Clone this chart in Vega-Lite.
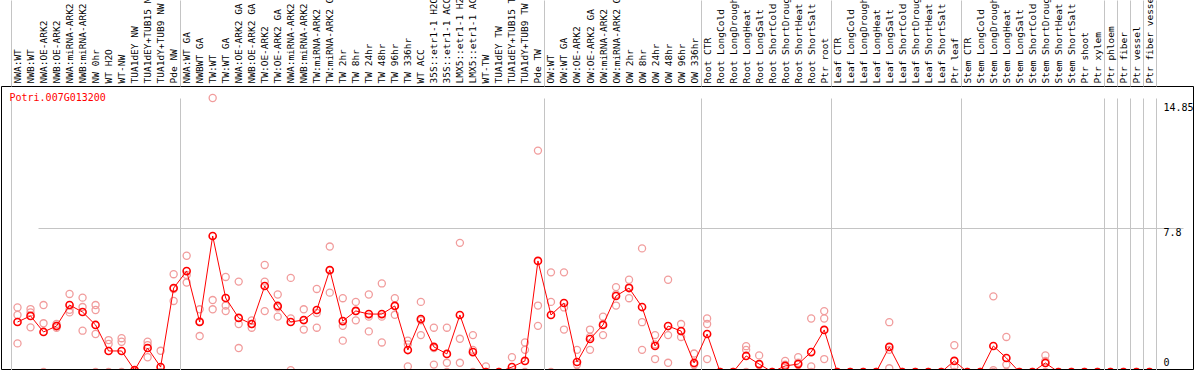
{
  "$schema": "https://vega.github.io/schema/vega-lite/v6.json",
  "width": 1192,
  "height": 283,
  "autosize": "none",
  "padding": {"left": 1, "top": 86, "right": 1, "bottom": 1},
  "background": "white",
  "config": {"view": {"stroke": "black", "strokeWidth": 1, "fill": "white"}, "font": "DejaVu Sans Mono"},
  "datasets": {
    "means": [
      {"c": "NWA:WT", "i": 0, "v": 2.71}, {"c": "NWB:WT", "i": 1, "v": 3.04}, {"c": "NWA:OE-ARK2", "i": 2, "v": 2.17}, {"c": "NWB:OE-ARK2", "i": 3, "v": 2.49},
      {"c": "NWA:miRNA-ARK2", "i": 4, "v": 3.63}, {"c": "NWB:miRNA-ARK2", "i": 5, "v": 3.25}, {"c": "NW 0hr", "i": 6, "v": 2.55}, {"c": "WT H2O", "i": 7, "v": 1.14},
      {"c": "WT-NW", "i": 8, "v": 1.14}, {"c": "TUA1dEY NW", "i": 9, "v": 0.1}, {"c": "TUA1dEY+TUB15 NW", "i": 10, "v": 1.3}, {"c": "TUA1dY+TUB9 NW", "i": 11, "v": 0.27},
      {"c": "Pde NW", "i": 12, "v": 4.55}, {"c": "NWA:WT GA", "i": 13, "v": 5.47}, {"c": "NWBWT GA", "i": 14, "v": 2.71}, {"c": "TW:WT", "i": 15, "v": 7.37},
      {"c": "TW:WT GA", "i": 16, "v": 4.01}, {"c": "NWA:OE-ARK2 GA", "i": 17, "v": 2.93}, {"c": "NWB:OE-ARK2 GA", "i": 18, "v": 2.6}, {"c": "TW:OE-ARK2", "i": 19, "v": 4.66},
      {"c": "TW:OE-ARK2 GA", "i": 20, "v": 3.58}, {"c": "NWA:miRNA-ARK2 GA", "i": 21, "v": 2.71}, {"c": "NWB:miRNA-ARK2 GA", "i": 22, "v": 2.82}, {"c": "TW:miRNA-ARK2", "i": 23, "v": 3.36},
      {"c": "TW:miRNA-ARK2 GA", "i": 24, "v": 5.53}, {"c": "TW 2hr", "i": 25, "v": 2.76}, {"c": "TW 8hr", "i": 26, "v": 3.31}, {"c": "TW 24hr", "i": 27, "v": 3.14},
      {"c": "TW 48hr", "i": 28, "v": 3.14}, {"c": "TW 96hr", "i": 29, "v": 3.58}, {"c": "TW 336hr", "i": 30, "v": 1.19}, {"c": "WT ACC", "i": 31, "v": 2.87},
      {"c": "35S::etr1-1 H2O", "i": 32, "v": 1.36}, {"c": "35S::etr1-1 ACC", "i": 33, "v": 0.98}, {"c": "LMX5::etr1-1 H2O", "i": 34, "v": 3.09}, {"c": "LMX5::etr1-1 ACC", "i": 35, "v": 1.08},
      {"c": "WT-TW", "i": 36, "v": 0}, {"c": "TUA1dEY TW", "i": 37, "v": 0}, {"c": "TUA1dEY+TUB15 TW", "i": 38, "v": 0.27}, {"c": "TUA1dY+TUB9 TW", "i": 39, "v": 0.6},
      {"c": "Pde TW", "i": 40, "v": 6.02}, {"c": "OW:WT", "i": 41, "v": 3.09}, {"c": "OW:WT GA", "i": 42, "v": 3.74}, {"c": "OW:OE-ARK2", "i": 43, "v": 0.54},
      {"c": "OW:OE-ARK2 GA", "i": 44, "v": 1.79}, {"c": "OW:miRNA-ARK2", "i": 45, "v": 2.55}, {"c": "OW:miRNA-ARK2 GA", "i": 46, "v": 4.12}, {"c": "OW 2hr", "i": 47, "v": 4.55},
      {"c": "OW 8hr", "i": 48, "v": 3.52}, {"c": "OW 24hr", "i": 49, "v": 1.41}, {"c": "OW 48hr", "i": 50, "v": 2.49}, {"c": "OW 96hr", "i": 51, "v": 2.22},
      {"c": "OW 336hr", "i": 52, "v": 0.49}, {"c": "Root CTR", "i": 53, "v": 2.06}, {"c": "Root LongCold", "i": 54, "v": 0}, {"c": "Root LongDrought", "i": 55, "v": 0},
      {"c": "Root LongHeat", "i": 56, "v": 0.87}, {"c": "Root LongSalt", "i": 57, "v": 0.43}, {"c": "Root ShortCold", "i": 58, "v": 0}, {"c": "Root ShortDrought", "i": 59, "v": 0.33},
      {"c": "Root ShortHeat", "i": 60, "v": 0.43}, {"c": "Root ShortSalt", "i": 61, "v": 1.08}, {"c": "Ptr root", "i": 62, "v": 2.28}, {"c": "Leaf CTR", "i": 63, "v": 0},
      {"c": "Leaf LongCold", "i": 64, "v": 0}, {"c": "Leaf LongDrought", "i": 65, "v": 0}, {"c": "Leaf LongHeat", "i": 66, "v": 0}, {"c": "Leaf LongSalt", "i": 67, "v": 1.36},
      {"c": "Leaf ShortCold", "i": 68, "v": 0}, {"c": "Leaf ShortDrought", "i": 69, "v": 0}, {"c": "Leaf ShortHeat", "i": 70, "v": 0}, {"c": "Leaf ShortSalt", "i": 71, "v": 0},
      {"c": "Ptr leaf", "i": 72, "v": 0.6}, {"c": "Stem CTR", "i": 73, "v": 0}, {"c": "Stem LongCold", "i": 74, "v": 0}, {"c": "Stem LongDrought", "i": 75, "v": 1.41},
      {"c": "Stem LongHeat", "i": 76, "v": 0.76}, {"c": "Stem LongSalt", "i": 77, "v": 0}, {"c": "Stem ShortCold", "i": 78, "v": 0}, {"c": "Stem ShortDrought", "i": 79, "v": 0.49},
      {"c": "Stem ShortHeat", "i": 80, "v": 0}, {"c": "Stem ShortSalt", "i": 81, "v": 0}, {"c": "Ptr shoot", "i": 82, "v": 0}, {"c": "Ptr xylem", "i": 83, "v": 0},
      {"c": "Ptr phloem", "i": 84, "v": 0}, {"c": "Ptr fiber", "i": 85, "v": 0}, {"c": "Ptr vessel", "i": 86, "v": 0}, {"c": "Ptr fiber vessel", "i": 87, "v": 0}
    ],
    "reps": [
      {"c": "NWA:WT", "v": 3.5}, {"c": "NWA:WT", "v": 3.09}, {"c": "NWA:WT", "v": 1.55},
      {"c": "NWB:WT", "v": 3.41}, {"c": "NWB:WT", "v": 3.23}, {"c": "NWB:WT", "v": 2.42},
      {"c": "NWA:OE-ARK2", "v": 3.63}, {"c": "NWA:OE-ARK2", "v": 2.64}, {"c": "NWA:OE-ARK2", "v": 0},
      {"c": "NWB:OE-ARK2", "v": 2.6}, {"c": "NWB:OE-ARK2", "v": 2.5}, {"c": "NWB:OE-ARK2", "v": 2.4},
      {"c": "NWA:miRNA-ARK2", "v": 4.23}, {"c": "NWA:miRNA-ARK2", "v": 3.37}, {"c": "NWA:miRNA-ARK2", "v": 3.23},
      {"c": "NWB:miRNA-ARK2", "v": 4.03}, {"c": "NWB:miRNA-ARK2", "v": 3.52}, {"c": "NWB:miRNA-ARK2", "v": 2.24},
      {"c": "NW 0hr", "v": 3.63}, {"c": "NW 0hr", "v": 3.36}, {"c": "NW 0hr", "v": 2.06}, {"c": "NW 0hr", "v": 0},
      {"c": "WT H2O", "v": 1.73}, {"c": "WT H2O", "v": 1.52}, {"c": "WT H2O", "v": 0},
      {"c": "WT-NW", "v": 1.83}, {"c": "WT-NW", "v": 1.64}, {"c": "WT-NW", "v": 0},
      {"c": "TUA1dEY NW", "v": 0},
      {"c": "TUA1dEY+TUB15 NW", "v": 1.64}, {"c": "TUA1dEY+TUB15 NW", "v": 1.46}, {"c": "TUA1dEY+TUB15 NW", "v": 0.8},
      {"c": "TUA1dY+TUB9 NW", "v": 1.15}, {"c": "TUA1dY+TUB9 NW", "v": 0},
      {"c": "Pde NW", "v": 5.3}, {"c": "Pde NW", "v": 4.5}, {"c": "Pde NW", "v": 3.85},
      {"c": "NWA:WT GA", "v": 6.3}, {"c": "NWA:WT GA", "v": 5.26}, {"c": "NWA:WT GA", "v": 4.85},
      {"c": "NWBWT GA", "v": 3.4}, {"c": "NWBWT GA", "v": 2.75}, {"c": "NWBWT GA", "v": 1.95},
      {"c": "TW:WT", "v": 14.85}, {"c": "TW:WT", "v": 3.9}, {"c": "TW:WT", "v": 3.4},
      {"c": "TW:WT GA", "v": 5.15}, {"c": "TW:WT GA", "v": 3.6}, {"c": "TW:WT GA", "v": 3.3},
      {"c": "NWA:OE-ARK2 GA", "v": 4.9}, {"c": "NWA:OE-ARK2 GA", "v": 2.6}, {"c": "NWA:OE-ARK2 GA", "v": 1.3},
      {"c": "NWB:OE-ARK2 GA", "v": 2.8}, {"c": "NWB:OE-ARK2 GA", "v": 2.6}, {"c": "NWB:OE-ARK2 GA", "v": 2.4},
      {"c": "TW:OE-ARK2", "v": 5.8}, {"c": "TW:OE-ARK2", "v": 4.9}, {"c": "TW:OE-ARK2", "v": 3.3},
      {"c": "TW:OE-ARK2 GA", "v": 4.2}, {"c": "TW:OE-ARK2 GA", "v": 3.5}, {"c": "TW:OE-ARK2 GA", "v": 3.0},
      {"c": "NWA:miRNA-ARK2 GA", "v": 5.1}, {"c": "NWA:miRNA-ARK2 GA", "v": 2.9}, {"c": "NWA:miRNA-ARK2 GA", "v": 0.1},
      {"c": "NWB:miRNA-ARK2 GA", "v": 3.4}, {"c": "NWB:miRNA-ARK2 GA", "v": 2.8}, {"c": "NWB:miRNA-ARK2 GA", "v": 2.3},
      {"c": "TW:miRNA-ARK2", "v": 4.5}, {"c": "TW:miRNA-ARK2", "v": 3.2}, {"c": "TW:miRNA-ARK2", "v": 2.4},
      {"c": "TW:miRNA-ARK2 GA", "v": 6.8}, {"c": "TW:miRNA-ARK2 GA", "v": 5.5}, {"c": "TW:miRNA-ARK2 GA", "v": 4.3},
      {"c": "TW 2hr", "v": 4.0}, {"c": "TW 2hr", "v": 2.5}, {"c": "TW 2hr", "v": 1.7},
      {"c": "TW 8hr", "v": 3.8}, {"c": "TW 8hr", "v": 3.3}, {"c": "TW 8hr", "v": 2.8},
      {"c": "TW 24hr", "v": 4.2}, {"c": "TW 24hr", "v": 3.0}, {"c": "TW 24hr", "v": 2.2},
      {"c": "TW 48hr", "v": 4.8}, {"c": "TW 48hr", "v": 3.0}, {"c": "TW 48hr", "v": 1.6},
      {"c": "TW 96hr", "v": 4.0}, {"c": "TW 96hr", "v": 3.6}, {"c": "TW 96hr", "v": 3.1},
      {"c": "TW 336hr", "v": 1.7}, {"c": "TW 336hr", "v": 1.5}, {"c": "TW 336hr", "v": 0.3},
      {"c": "WT ACC", "v": 3.8}, {"c": "WT ACC", "v": 2.8}, {"c": "WT ACC", "v": 2.0},
      {"c": "35S::etr1-1 H2O", "v": 2.4}, {"c": "35S::etr1-1 H2O", "v": 1.3}, {"c": "35S::etr1-1 H2O", "v": 0.4},
      {"c": "35S::etr1-1 ACC", "v": 2.4}, {"c": "35S::etr1-1 ACC", "v": 0.5}, {"c": "35S::etr1-1 ACC", "v": 0},
      {"c": "LMX5::etr1-1 H2O", "v": 7.0}, {"c": "LMX5::etr1-1 H2O", "v": 1.8}, {"c": "LMX5::etr1-1 H2O", "v": 0.5},
      {"c": "LMX5::etr1-1 ACC", "v": 2.0}, {"c": "LMX5::etr1-1 ACC", "v": 1.2}, {"c": "LMX5::etr1-1 ACC", "v": 0},
      {"c": "WT-TW", "v": 0.3}, {"c": "WT-TW", "v": 0},
      {"c": "TUA1dEY TW", "v": 0},
      {"c": "TUA1dEY+TUB15 TW", "v": 0.8}, {"c": "TUA1dEY+TUB15 TW", "v": 0},
      {"c": "TUA1dY+TUB9 TW", "v": 1.6}, {"c": "TUA1dY+TUB9 TW", "v": 1.2}, {"c": "TUA1dY+TUB9 TW", "v": 0},
      {"c": "Pde TW", "v": 12.0}, {"c": "Pde TW", "v": 3.6}, {"c": "Pde TW", "v": 2.5},
      {"c": "OW:WT", "v": 5.4}, {"c": "OW:WT", "v": 3.8}, {"c": "OW:WT", "v": 0},
      {"c": "OW:WT GA", "v": 5.4}, {"c": "OW:WT GA", "v": 3.5}, {"c": "OW:WT GA", "v": 2.3},
      {"c": "OW:OE-ARK2", "v": 1.2}, {"c": "OW:OE-ARK2", "v": 0.4}, {"c": "OW:OE-ARK2", "v": 0},
      {"c": "OW:OE-ARK2 GA", "v": 2.3}, {"c": "OW:OE-ARK2 GA", "v": 1.9}, {"c": "OW:OE-ARK2 GA", "v": 1.2},
      {"c": "OW:miRNA-ARK2", "v": 3.0}, {"c": "OW:miRNA-ARK2", "v": 2.6}, {"c": "OW:miRNA-ARK2", "v": 2.0},
      {"c": "OW:miRNA-ARK2 GA", "v": 4.6}, {"c": "OW:miRNA-ARK2 GA", "v": 4.2}, {"c": "OW:miRNA-ARK2 GA", "v": 3.6},
      {"c": "OW 2hr", "v": 5.0}, {"c": "OW 2hr", "v": 4.6}, {"c": "OW 2hr", "v": 4.0},
      {"c": "OW 8hr", "v": 6.7}, {"c": "OW 8hr", "v": 2.7}, {"c": "OW 8hr", "v": 1.2},
      {"c": "OW 24hr", "v": 2.0}, {"c": "OW 24hr", "v": 1.5}, {"c": "OW 24hr", "v": 0.7},
      {"c": "OW 48hr", "v": 5.0}, {"c": "OW 48hr", "v": 2.0}, {"c": "OW 48hr", "v": 0.5},
      {"c": "OW 96hr", "v": 2.6}, {"c": "OW 96hr", "v": 2.2}, {"c": "OW 96hr", "v": 1.9},
      {"c": "OW 336hr", "v": 1.0}, {"c": "OW 336hr", "v": 0.4}, {"c": "OW 336hr", "v": 0},
      {"c": "Root CTR", "v": 2.9}, {"c": "Root CTR", "v": 2.6}, {"c": "Root CTR", "v": 0.7},
      {"c": "Root LongCold", "v": 0}, {"c": "Root LongDrought", "v": 0},
      {"c": "Root LongHeat", "v": 1.4}, {"c": "Root LongHeat", "v": 1.2}, {"c": "Root LongHeat", "v": 0},
      {"c": "Root LongSalt", "v": 0.9}, {"c": "Root LongSalt", "v": 0.4}, {"c": "Root LongSalt", "v": 0},
      {"c": "Root ShortCold", "v": 0},
      {"c": "Root ShortDrought", "v": 0.6}, {"c": "Root ShortDrought", "v": 0.4}, {"c": "Root ShortDrought", "v": 0},
      {"c": "Root ShortHeat", "v": 0.8}, {"c": "Root ShortHeat", "v": 0.5}, {"c": "Root ShortHeat", "v": 0},
      {"c": "Root ShortSalt", "v": 2.9}, {"c": "Root ShortSalt", "v": 0.3}, {"c": "Root ShortSalt", "v": 0},
      {"c": "Ptr root", "v": 3.3}, {"c": "Ptr root", "v": 2.9}, {"c": "Ptr root", "v": 0.7},
      {"c": "Leaf CTR", "v": 0}, {"c": "Leaf LongCold", "v": 0}, {"c": "Leaf LongDrought", "v": 0}, {"c": "Leaf LongHeat", "v": 0},
      {"c": "Leaf LongSalt", "v": 2.7}, {"c": "Leaf LongSalt", "v": 1.2}, {"c": "Leaf LongSalt", "v": 0.2},
      {"c": "Leaf ShortCold", "v": 0}, {"c": "Leaf ShortDrought", "v": 0}, {"c": "Leaf ShortHeat", "v": 0}, {"c": "Leaf ShortSalt", "v": 0},
      {"c": "Ptr leaf", "v": 1.45}, {"c": "Ptr leaf", "v": 0.3}, {"c": "Ptr leaf", "v": 0},
      {"c": "Stem CTR", "v": 0}, {"c": "Stem LongCold", "v": 0},
      {"c": "Stem LongDrought", "v": 4.1}, {"c": "Stem LongDrought", "v": 0.1}, {"c": "Stem LongDrought", "v": 0},
      {"c": "Stem LongHeat", "v": 1.9}, {"c": "Stem LongHeat", "v": 0.4}, {"c": "Stem LongHeat", "v": 0},
      {"c": "Stem LongSalt", "v": 0}, {"c": "Stem ShortCold", "v": 0},
      {"c": "Stem ShortDrought", "v": 0.9}, {"c": "Stem ShortDrought", "v": 0.6}, {"c": "Stem ShortDrought", "v": 0},
      {"c": "Stem ShortHeat", "v": 0}, {"c": "Stem ShortSalt", "v": 0}, {"c": "Ptr shoot", "v": 0}, {"c": "Ptr xylem", "v": 0},
      {"c": "Ptr phloem", "v": 0}, {"c": "Ptr fiber", "v": 0}, {"c": "Ptr vessel", "v": 0}, {"c": "Ptr fiber vessel", "v": 0}
    ]
  },
  "encoding": {
    "x": {
      "field": "c",
      "type": "nominal",
      "scale": {
        "domain": ["NWA:WT", "NWB:WT", "NWA:OE-ARK2", "NWB:OE-ARK2", "NWA:miRNA-ARK2", "NWB:miRNA-ARK2", "NW 0hr", "WT H2O", "WT-NW", "TUA1dEY NW", "TUA1dEY+TUB15 NW", "TUA1dY+TUB9 NW", "Pde NW",
          "NWA:WT GA", "NWBWT GA", "TW:WT", "TW:WT GA", "NWA:OE-ARK2 GA", "NWB:OE-ARK2 GA", "TW:OE-ARK2", "TW:OE-ARK2 GA", "NWA:miRNA-ARK2 GA", "NWB:miRNA-ARK2 GA", "TW:miRNA-ARK2", "TW:miRNA-ARK2 GA",
          "TW 2hr", "TW 8hr", "TW 24hr", "TW 48hr", "TW 96hr", "TW 336hr", "WT ACC", "35S::etr1-1 H2O", "35S::etr1-1 ACC", "LMX5::etr1-1 H2O", "LMX5::etr1-1 ACC", "WT-TW", "TUA1dEY TW", "TUA1dEY+TUB15 TW", "TUA1dY+TUB9 TW", "Pde TW",
          "OW:WT", "OW:WT GA", "OW:OE-ARK2", "OW:OE-ARK2 GA", "OW:miRNA-ARK2", "OW:miRNA-ARK2 GA", "OW 2hr", "OW 8hr", "OW 24hr", "OW 48hr", "OW 96hr", "OW 336hr",
          "Root CTR", "Root LongCold", "Root LongDrought", "Root LongHeat", "Root LongSalt", "Root ShortCold", "Root ShortDrought", "Root ShortHeat", "Root ShortSalt", "Ptr root",
          "Leaf CTR", "Leaf LongCold", "Leaf LongDrought", "Leaf LongHeat", "Leaf LongSalt", "Leaf ShortCold", "Leaf ShortDrought", "Leaf ShortHeat", "Leaf ShortSalt", "Ptr leaf",
          "Stem CTR", "Stem LongCold", "Stem LongDrought", "Stem LongHeat", "Stem LongSalt", "Stem ShortCold", "Stem ShortDrought", "Stem ShortHeat", "Stem ShortSalt", "Ptr shoot", "Ptr xylem",
          "Ptr phloem", "Ptr fiber", "Ptr vessel", "Ptr fiber vessel"],
        "range": [10, 1155],
        "paddingInner": 0,
        "paddingOuter": 0
      },
      "axis": {
        "orient": "top",
        "title": null,
        "domain": false,
        "tickBand": "extent",
        "labelAngle": -90,
        "labelAlign": "left",
        "labelBaseline": "middle",
        "labelFont": "DejaVu Sans Mono",
        "labelFontSize": 9.5,
        "labelColor": "black",
        "labelPadding": -83,
        "labelOverlap": false,
        "labelBound": false,
        "labelLimit": 400,
        "ticks": true,
        "tickSize": 86,
        "tickWidth": 1,
        "tickColor": {"condition": {"test": "datum.extra || indexof(['Pde NW','Pde TW','OW 336hr','Ptr root','Ptr leaf','Ptr xylem','Ptr phloem','Ptr fiber','Ptr vessel','Ptr fiber vessel'], datum.value) >= 0", "value": "#c4c4c4"}, "value": "transparent"},
        "grid": true,
        "gridWidth": 1,
        "gridColor": {"condition": {"test": "datum.extra || indexof(['Pde NW','Pde TW','OW 336hr','Ptr root','Ptr leaf','Ptr xylem','Ptr phloem','Ptr fiber','Ptr vessel','Ptr fiber vessel'], datum.value) >= 0", "value": "#c4c4c4"}, "value": "transparent"}
      }
    },
    "y": {
      "field": "v",
      "type": "quantitative",
      "scale": {"domain": [0, 14.85], "range": [286, 12], "nice": false, "zero": false},
      "axis": {
        "orient": "right",
        "title": "Potri.007G013200",
        "titleAngle": 0,
        "titleX": -1184,
        "titleY": 11,
        "titleAlign": "left",
        "titleBaseline": "middle",
        "titleColor": "#ff0000",
        "titleFont": "DejaVu Sans Mono",
        "titleFontSize": 10,
        "titleFontWeight": "normal",
        "domain": false,
        "ticks": false,
        "values": [14.85, 7.8, 0],
        "labelExpr": "datum.value > 14 ? '14.85' : datum.value > 7 ? '7.8' : '0'",
        "labelAlign": "left",
        "labelBaseline": "middle",
        "labelPadding": -30,
        "labelFont": "DejaVu Sans Mono",
        "labelFontSize": 10,
        "labelColor": "black",
        "labelOverlap": false,
        "labelBound": false,
        "labelOffset": {"condition": [{"test": "datum.value > 14", "value": 9}, {"test": "datum.value > 7", "value": 4}], "value": -10},
        "grid": true,
        "gridColor": {"condition": {"test": "datum.value > 7 && datum.value < 8", "value": "#c4c4c4"}, "value": "transparent"}
      }
    }
  },
  "layer": [
    {
      "data": {"name": "reps"},
      "mark": {"type": "point", "shape": "circle", "filled": false, "size": 50, "strokeWidth": 1.3, "color": "#f19c9c", "opacity": 1, "clip": true}
    },
    {
      "data": {"name": "means"},
      "mark": {"type": "line", "color": "#ff0000", "strokeWidth": 1, "clip": true},
      "encoding": {"order": {"field": "i", "type": "quantitative"}}
    },
    {
      "data": {"name": "means"},
      "mark": {"type": "point", "shape": "circle", "filled": false, "size": 50, "strokeWidth": 1.6, "color": "#ff0000", "opacity": 1, "clip": true}
    }
  ]
}
